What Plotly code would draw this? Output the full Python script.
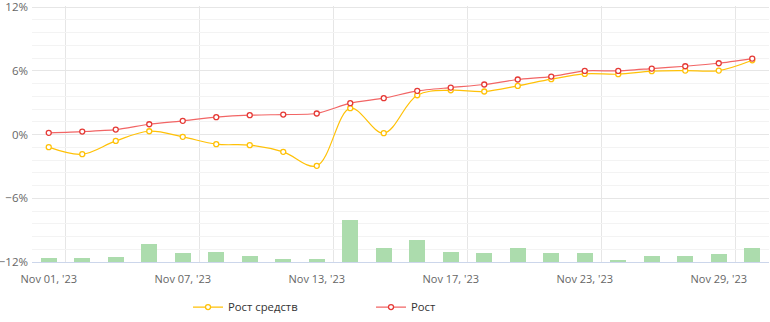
import plotly.graph_objects as go

dates = ["Nov 01, '23", "Nov 02, '23", "Nov 03, '23", "Nov 06, '23", "Nov 07, '23",
         "Nov 08, '23", "Nov 09, '23", "Nov 10, '23", "Nov 13, '23", "Nov 14, '23",
         "Nov 15, '23", "Nov 16, '23", "Nov 17, '23", "Nov 20, '23", "Nov 21, '23",
         "Nov 22, '23", "Nov 23, '23", "Nov 24, '23", "Nov 27, '23", "Nov 28, '23",
         "Nov 29, '23", "Nov 30, '23"]

growth_funds = [-1.19, -1.85, -0.60, 0.31, -0.22, -0.91, -1.00, -1.63, -2.95, 2.48,
                0.13, 3.70, 4.17, 4.05, 4.58, 5.21, 5.71, 5.68, 5.96, 6.02, 6.02, 6.99]
growth = [0.16, 0.28, 0.47, 0.97, 1.29, 1.63, 1.82, 1.88, 1.98, 2.95, 3.42, 4.11,
          4.42, 4.71, 5.18, 5.46, 5.99, 5.99, 6.21, 6.43, 6.71, 7.15]
bars = [0.40, 0.40, 0.50, 1.72, 0.88, 0.97, 0.59, 0.31, 0.31, 3.98, 1.35, 2.10,
        0.97, 0.88, 1.35, 0.88, 0.88, 0.12, 0.59, 0.59, 0.78, 1.35]

y_tickvals = [-12, -6, 0, 6, 12]
y_ticktext = ["\u221212%", "\u22126%", "0%", "6%", "12%"]
x_label_idx = [0, 4, 8, 12, 16, 20]

x = list(range(len(dates)))

fig = go.Figure()
fig.add_trace(go.Bar(
    x=x, y=bars, yaxis="y", width=0.48, showlegend=False,
    marker=dict(color="#acdcad", line=dict(width=0)),
    hoverinfo="skip",
))
fig.add_trace(go.Scatter(
    x=x, y=growth_funds, yaxis="y2", name="Рост средств", mode="lines+markers",
    line=dict(color="#ffc107", width=1.2, shape="spline", smoothing=1),
    marker=dict(symbol="circle", size=5, color="white", line=dict(color="#ffc107", width=1.3)),
))
fig.add_trace(go.Scatter(
    x=x, y=growth, yaxis="y2", name="Рост", mode="lines+markers",
    line=dict(color="#f26565", width=1.2, shape="spline", smoothing=0.6),
    marker=dict(symbol="circle", size=5, color="white", line=dict(color="#e53935", width=1.3)),
))

fig.update_layout(
    width=770, height=322,
    margin=dict(l=32, r=1, t=6, b=60),
    paper_bgcolor="white", plot_bgcolor="white",
    font=dict(family="Open Sans", size=11, color="#666666"),
    bargap=0,
    xaxis=dict(
        range=[-0.5, 21.5], automargin=False,
        tickmode="array", tickvals=x_label_idx,
        ticktext=[dates[i] for i in x_label_idx],
        showgrid=False, zeroline=False,
        showline=True, linecolor="#ccd6eb", linewidth=1,
        ticks="", ticklabelstandoff=7, tickfont=dict(size=11, color="#666666"),
        minor=dict(tickmode="array", tickvals=[i + 0.5 for i in x_label_idx],
                   showgrid=True, gridcolor="#e6e6e6", gridwidth=1, ticks=""),
    ),
    yaxis=dict(range=[0, 24.1], visible=False, fixedrange=True),
    yaxis2=dict(
        overlaying="y", side="left", range=[-12, 12.1], automargin=False,
        tickmode="array", tickvals=y_tickvals, ticktext=y_ticktext,
        ticklabeloverflow="allow",
        showgrid=True, gridcolor="#e6e6e6", gridwidth=1, zeroline=False,
        ticks="", ticklabelstandoff=3, tickfont=dict(size=11.5, color="#666666"),
        minor=dict(dtick=1.2, tick0=0, showgrid=True, gridcolor="#f3f3f3", gridwidth=1, ticks=""),
    ),
    legend=dict(
        orientation="h", x=0.46, xanchor="center", y=-0.176, yanchor="middle",
        font=dict(size=11.3, color="#333333"), entrywidth=138,
        bgcolor="rgba(0,0,0,0)",
    ),
)

fig.write_html("out.html")
